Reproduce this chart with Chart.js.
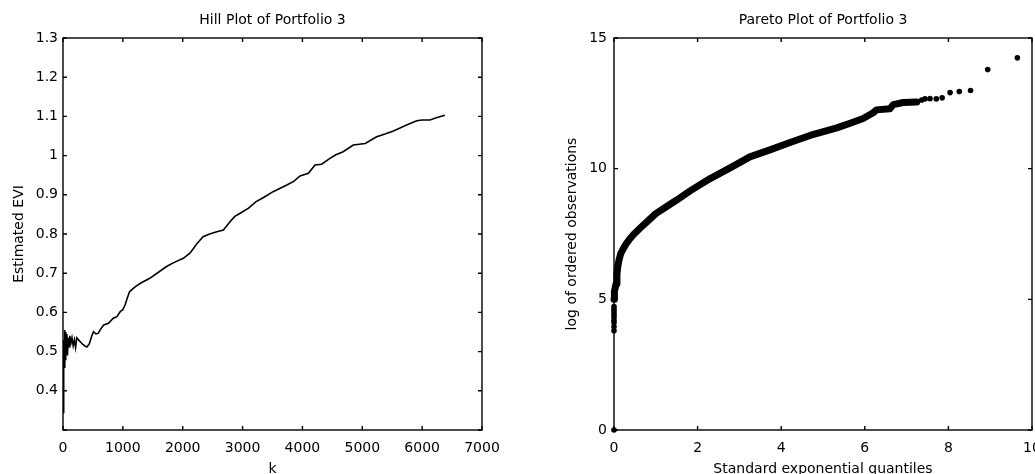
<!DOCTYPE html>
<html>
<head>
<meta charset="utf-8">
<script src="https://cdn.jsdelivr.net/npm/chart.js@4.4.1/dist/chart.umd.min.js"></script>
<style>
  html, body { margin: 0; padding: 0; background: #fff; overflow: hidden; }
  body { width: 1035px; height: 474px; position: relative; }
  canvas { position: absolute; top: 0; }
  #hill { left: 0; }
  #pareto { left: 518px; }
</style>
</head>
<body>
<canvas id="hill" width="517" height="478"></canvas>
<canvas id="pareto" width="560" height="478"></canvas>
<script>
// Hill estimates of the extreme value index against k
const hillK = [1, 8, 15, 22, 30, 38, 46, 55, 65, 75, 85, 100, 115, 130, 150, 170, 190, 210, 230, 260,
  290, 320, 360, 400, 440, 480, 510, 550, 590, 640, 680, 760, 840, 900, 960, 1000, 1040, 1070, 1110,
  1150, 1210, 1300, 1450, 1600, 1730, 1850, 2010, 2120, 2180, 2240, 2340, 2450, 2570, 2680, 2790,
  2870, 2960, 3100, 3220, 3350, 3510, 3620, 3740, 3860, 3960, 4100, 4210, 4320, 4460, 4560, 4680,
  4850, 5050, 5240, 5380, 5520, 5640, 5740, 5910, 6000, 6130, 6250, 6380];
const hillEVI = [0.345, 0.47, 0.53, 0.46, 0.555, 0.48, 0.55, 0.50, 0.545, 0.49, 0.535, 0.51, 0.54,
  0.52, 0.535, 0.515, 0.53, 0.51, 0.535, 0.53, 0.525, 0.52, 0.515, 0.512, 0.52, 0.54, 0.551, 0.545,
  0.547, 0.56, 0.568, 0.572, 0.585, 0.589, 0.603, 0.607, 0.62, 0.635, 0.652, 0.658, 0.666, 0.675,
  0.687, 0.703, 0.717, 0.727, 0.738, 0.751, 0.763, 0.776, 0.793, 0.80, 0.806, 0.81, 0.831, 0.845,
  0.853, 0.866, 0.882, 0.893, 0.908, 0.916, 0.925, 0.935, 0.948, 0.955, 0.976, 0.978, 0.993, 1.002,
  1.010, 1.027, 1.031, 1.048, 1.055, 1.063, 1.071, 1.078, 1.089, 1.091, 1.091, 1.097, 1.103];

// Pareto quantile plot: the dense body of the sample
const bodyQ = [0, 0.01, 0.03, 0.05, 0.07, 0.09, 0.12, 0.16, 0.21, 0.28, 0.37, 0.48, 0.62, 0.80, 1.00,
  1.26, 1.50, 1.82, 2.30, 2.80, 3.25, 3.73, 4.21, 4.69, 5.01, 5.33, 5.65, 5.96, 6.20, 6.28, 6.60,
  6.68, 6.92, 7.24];
const bodyLog = [5.0, 5.3, 5.45, 5.6, 5.95, 6.25, 6.5, 6.75, 6.9, 7.1, 7.3, 7.5, 7.72, 7.98, 8.28,
  8.55, 8.8, 9.15, 9.62, 10.05, 10.45, 10.72, 11.0, 11.27, 11.42, 11.56, 11.74, 11.92, 12.14, 12.25,
  12.29, 12.45, 12.53, 12.55];
// isolated observations (smallest ones and the upper tail)
const tailQ = [0, 0, 0, 0, 0, 0, 0, 0, 0, 0, 7.36, 7.44, 7.56, 7.71, 7.85, 8.04, 8.26, 8.53, 8.94, 9.65];
const tailLog = [0, 3.8, 3.95, 4.1, 4.2, 4.32, 4.42, 4.52, 4.62, 4.72, 12.63, 12.67, 12.68, 12.67,
  12.71, 12.91, 12.95, 12.99, 13.79, 14.24];

const hillTicksX = [0, 1000, 2000, 3000, 4000, 5000, 6000, 7000];
const paretoTicksY = [0, 5, 10, 15];

Chart.defaults.font.family = '"DejaVu Sans", Arial, sans-serif';
Chart.defaults.font.size = 14;
Chart.defaults.color = '#000';

const pairs = (xs, ys) => xs.map((v, i) => ({ x: v, y: ys[i] }));

// closed box with short inward ticks on all four sides
const boxTicks = {
  id: 'boxTicks',
  afterDraw(chart) {
    const { ctx, chartArea: a, scales: { x, y } } = chart;
    const len = 4;
    ctx.save();
    ctx.strokeStyle = '#000';
    ctx.lineWidth = 1.4;
    ctx.strokeRect(a.left, a.top, a.right - a.left, a.bottom - a.top);
    ctx.beginPath();
    x.ticks.forEach(t => {
      const px = x.getPixelForValue(t.value);
      ctx.moveTo(px, a.bottom); ctx.lineTo(px, a.bottom - len);
      ctx.moveTo(px, a.top); ctx.lineTo(px, a.top + len);
    });
    y.ticks.forEach(t => {
      const py = y.getPixelForValue(t.value);
      ctx.moveTo(a.left, py); ctx.lineTo(a.left + len, py);
      ctx.moveTo(a.right, py); ctx.lineTo(a.right - len, py);
    });
    ctx.stroke();
    ctx.restore();
  }
};

function axis(opts) {
  return Object.assign({
    type: 'linear',
    grid: { display: false, drawTicks: false },
    border: { display: false }
  }, opts);
}

function heading(text) {
  return {
    display: true,
    text,
    fullSize: false,
    font: { size: 14, weight: 'normal' },
    color: '#000',
    padding: { top: 12, bottom: 9.2 }
  };
}

const plain = v => String(Math.round(v * 10) / 10);

new Chart(document.getElementById('hill'), {
  type: 'scatter',
  data: {
    datasets: [{
      data: pairs(hillK, hillEVI),
      showLine: true,
      borderColor: '#000',
      borderWidth: 1.6,
      pointRadius: 0,
      tension: 0
    }]
  },
  options: {
    responsive: false,
    devicePixelRatio: 1,
    animation: false,
    layout: { padding: { left: 0, top: 0, right: 35, bottom: 0 } },
    plugins: {
      legend: { display: false },
      tooltip: { enabled: false },
      title: heading('Hill Plot of Portfolio 3')
    },
    scales: {
      x: axis({
        min: 0, max: 7000,
        afterBuildTicks: s => { s.ticks = hillTicksX.map(v => ({ value: v })); },
        ticks: { padding: 10, maxRotation: 0, callback: v => String(v) },
        title: { display: true, text: 'k', padding: { top: 0, bottom: 0.6 } },
        afterFit: s => { s.height = 48; }
      }),
      y: axis({
        min: 0.3, max: 1.3,
        ticks: {
          stepSize: 0.1, padding: 5,
          callback: v => (v < 0.35 ? '' : plain(v))
        },
        title: { display: true, text: 'Estimated EVI', padding: { top: 10.6, bottom: 0 } },
        afterFit: s => { s.width = 63; }
      })
    }
  },
  plugins: [boxTicks]
});

new Chart(document.getElementById('pareto'), {
  type: 'scatter',
  data: {
    datasets: [{
      data: pairs(bodyQ, bodyLog),
      showLine: true,
      borderColor: '#000',
      borderWidth: 7,
      borderCapStyle: 'round',
      borderJoinStyle: 'round',
      pointRadius: 2.8,
      pointBackgroundColor: '#000',
      pointBorderWidth: 0,
      tension: 0,
      clip: 8
    }, {
      data: pairs(tailQ, tailLog),
      pointRadius: 2.8,
      pointBackgroundColor: '#000',
      pointBorderWidth: 0,
      clip: 8
    }]
  },
  options: {
    responsive: false,
    devicePixelRatio: 1,
    animation: false,
    layout: { padding: { left: 0, top: 0, right: 46, bottom: 0 } },
    plugins: {
      legend: { display: false },
      tooltip: { enabled: false },
      title: heading('Pareto Plot of Portfolio 3')
    },
    scales: {
      x: axis({
        min: 0, max: 10,
        ticks: { stepSize: 2, padding: 10, maxRotation: 0, callback: plain },
        title: { display: true, text: 'Standard exponential quantiles', padding: { top: 0, bottom: 0.6 } },
        afterFit: s => { s.height = 48; }
      }),
      y: axis({
        min: 0, max: 15,
        afterBuildTicks: s => { s.ticks = paretoTicksY.map(v => ({ value: v })); },
        ticks: { padding: 7, callback: plain },
        title: { display: true, text: 'log of ordered observations', padding: { top: 45.6, bottom: 0 } },
        afterFit: s => { s.width = 96; }
      })
    }
  },
  plugins: [boxTicks]
});
</script>
</body>
</html>
